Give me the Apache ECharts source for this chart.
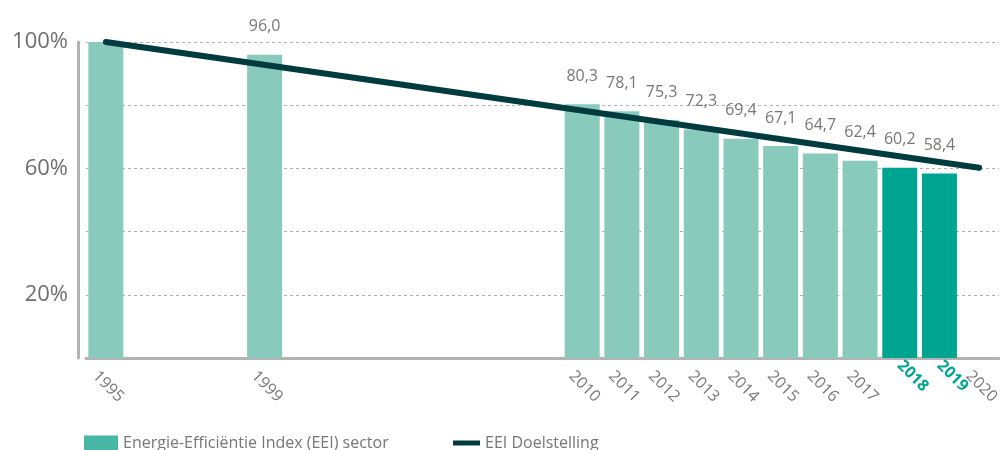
<!DOCTYPE html>
<html>
<head>
<meta charset="utf-8">
<script src="https://cdn.jsdelivr.net/npm/echarts@6/dist/echarts.min.js"></script>
<style>
  html, body { margin: 0; padding: 0; background: #fff; }
  #chart { width: 1000px; height: 450px; }
</style>
</head>
<body>
<div id="chart"></div>
<script>
// x categories (blank slots keep the gaps between 1995, 1999 and 2010)
const categories = ['1995', '', '', '', '1999', '', '', '', '', '', '', '',
  '2010', '2011', '2012', '2013', '2014', '2015', '2016', '2017', '2018', '2019', '2020'];

// EEI sector index, % of 1995
const eeiValues = [100, null, null, null, 96.0, null, null, null, null, null, null, null,
  80.3, 78.1, 75.3, 72.3, 69.4, 67.1, 64.7, 62.4, 60.2, 58.4, null];

// target line: start and end point
const targetValues = [100, null, null, null, null, null, null, null, null, null, null, null,
  null, null, null, null, null, null, null, null, null, null, 60.2];

const highlightYears = ['2018', '2019'];
const yLabels = [20, 60, 100];

const barName = 'Energie-Efficiëntie Index (EEI) sector';
const lineName = 'EEI Doelstelling';

const font = '"Open Sans", "Noto Sans", sans-serif';
const grey = '#777777';
const light = '#88cbbd';
const dark = '#00a591';

const xData = categories.map(c => highlightYears.includes(c)
  ? { value: c, textStyle: { color: dark, fontWeight: 'bold' } }
  : c);

const barData = eeiValues.map((v, i) => {
  if (v === null) return null;
  const item = { value: v };
  if (highlightYears.includes(categories[i])) item.itemStyle = { color: dark };
  if (categories[i] === '1995') item.label = { show: false };
  return item;
});

const chart = echarts.init(document.getElementById('chart'));
chart.setOption({
  animation: false,
  textStyle: { fontFamily: font },
  grid: { left: 86, right: 1, top: 42, bottom: 92, containLabel: false, outerBoundsMode: 'none' },
  legend: [
    {
      data: [{ name: barName, itemStyle: { color: '#47b6a5' } }],
      left: 79, top: 430, icon: 'rect', itemWidth: 34, itemHeight: 15,
      textStyle: { color: grey, fontSize: 16, fontFamily: font }
    },
    {
      data: [{ name: lineName, itemStyle: { color: '#003c3f' } }],
      left: 448, top: 430, icon: 'rect', itemWidth: 27, itemHeight: 5,
      textStyle: { color: grey, fontSize: 16, fontFamily: font }
    }
  ],
  xAxis: {
    type: 'category',
    data: xData,
    axisLine: { lineStyle: { color: '#b3b3b3', width: 3 } },
    axisTick: { show: false },
    axisLabel: {
      interval: 0, rotate: -45, margin: 5, verticalAlign: 'top', padding: [7, 0, 0, 0],
      color: grey, fontSize: 16, fontFamily: font
    }
  },
  yAxis: {
    type: 'value',
    min: 0, max: 100, interval: 20,
    offset: 8,
    axisLine: { show: true, lineStyle: { color: '#b3b3b3', width: 3 } },
    axisTick: { show: false },
    axisLabel: {
      margin: 10, color: '#6e6e6e', fontSize: 22, fontFamily: font,
      formatter: v => yLabels.includes(v) ? v + '%' : ''
    },
    splitLine: { lineStyle: { color: '#b0b0b0', type: [3, 3], width: 1 } }
  },
  series: [
    {
      name: barName,
      type: 'bar',
      data: barData,
      barWidth: 35,
      itemStyle: { color: light },
      label: {
        show: true, position: 'top', distance: 20,
        color: grey, fontSize: 16, fontFamily: font,
        formatter: p => p.value.toFixed(1).replace('.', ',')
      }
    },
    {
      name: lineName,
      type: 'line',
      data: targetValues,
      connectNulls: true,
      symbol: 'none',
      z: 5,
      lineStyle: { color: '#003c3f', width: 6, cap: 'round' }
    }
  ]
});
</script>
</body>
</html>
